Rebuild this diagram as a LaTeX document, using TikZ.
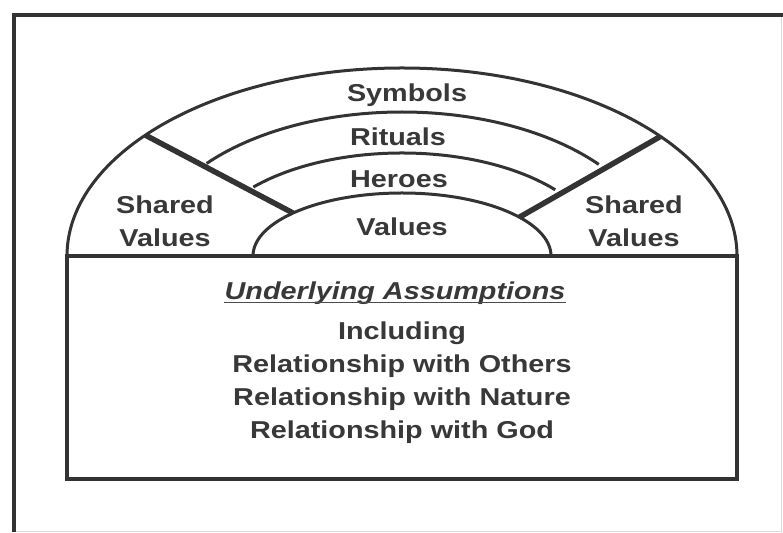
\documentclass[tikz,border=0pt]{standalone}
\usepackage{fontspec}
\setmainfont{Liberation Sans}
\usepackage{graphicx}
\newcommand{\widetxt}[1]{\scalebox{1.18}[1]{#1}}

\begin{document}
\begin{tikzpicture}[x=1pt, y=1pt,
  lbl/.style={font=\bfseries\fontsize{24.4}{33}\selectfont, text=black!78, align=center, inner sep=0pt},
  ring/.style={line width=3pt, draw=black!80},
  spoke/.style={line width=5.5pt, draw=black!80}]

\useasboundingbox (0,0) rectangle (783,532);
\fill[white] (0,0) rectangle (783,532);

% outer frame
\draw[black!15, line width=1pt] (781,517) -- (781,1) -- (14,1);
\draw[black!80, line width=3.5pt] (14,0) -- (14,517) -- (783,517);

% box of assumptions
\draw[black!80, line width=3.5pt] (67,276) rectangle (737,53);

% rings, centre on the top of the box
\coordinate (c) at (402,276);
\draw[ring] ([shift={(0:335 and 188)}]c) arc[start angle=0, end angle=180, x radius=335, y radius=188];
\draw[ring] ([shift={(39.5:255 and 144)}]c) arc[start angle=39.5, end angle=140, x radius=255, y radius=144];
\draw[ring] ([shift={(40:200 and 103)}]c) arc[start angle=40, end angle=138, x radius=200, y radius=103];
\draw[ring] ([shift={(0:149 and 63)}]c) arc[start angle=0, end angle=180, x radius=149, y radius=63];

\draw[spoke] ([shift={(140:335 and 188)}]c) -- ([shift={(137:149 and 63)}]c);
\draw[spoke] ([shift={(39.5:335 and 188)}]c) -- ([shift={(38:149 and 63)}]c);

\node[lbl] (sym) at (407,437) {\widetxt{Symbols}};
\node[lbl] (rit) at (398,395) {\widetxt{Rituals}};
\node[lbl] (her) at (399,353) {\widetxt{Heroes}};
\node[lbl] (val) at (402,305) {\widetxt{Values}};
\node[lbl] (shl) at (165,310.5) {\widetxt{Shared}\\\widetxt{Values}};
\node[lbl] (shr) at (634,310.5) {\widetxt{Shared}\\\widetxt{Values}};

\node[lbl] (ua) at (395,239) {\widetxt{\itshape Underlying Assumptions}};
\draw[black!70, line width=1.3pt] ([yshift=-3pt]ua.base west) -- ([yshift=-3pt]ua.base east);
\node[lbl] (incl) at (402,149) {\widetxt{Including}\\\widetxt{Relationship with Others}\\\widetxt{Relationship with Nature}\\\widetxt{Relationship with God}};

\end{tikzpicture}
\end{document}
